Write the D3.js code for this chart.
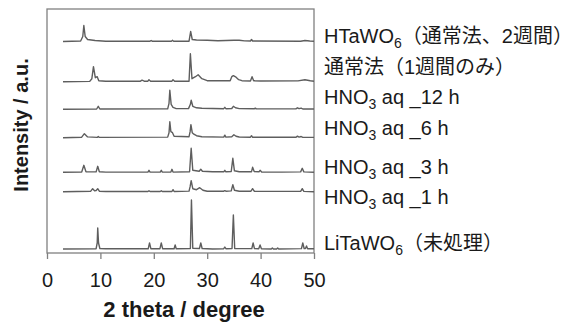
<!DOCTYPE html>
<html>
<head>
<meta charset="utf-8">
<script src="https://cdn.jsdelivr.net/npm/d3@7"></script>
<style>
  body { margin: 0; background: #fff; }
  text { font-family: "Liberation Sans", Arial, "Noto Sans CJK JP", sans-serif; fill: #1a1a1a; }
</style>
</head>
<body>
<div id="chart"></div>
<script>
// XRD patterns, [2theta, intensity above own baseline]
const litawo6 = [[3,0],[9.2,0.3],[9.4,6],[9.5,21],[9.65,6],[9.9,0.5],[11,0.2],[18.95,0.2],[19.2,6],[19.45,0.3],[21.15,0.3],[21.4,6],[21.65,0.3],[23.8,0.2],[24.0,4],[24.2,0.2],[26.85,0.5],[27.05,49],[27.3,0.8],[28.55,0.5],[28.8,6],[29.05,0.5],[31,0],[33.1,0.3],[33.3,2],[33.5,0.3],[34.65,0.5],[34.9,34],[35.15,0.5],[38.35,0.4],[38.6,6],[38.85,0.4],[39.65,0.3],[39.9,4],[40.15,0.3],[42,0],[42.2,1],[42.4,0],[43,0],[43.2,1],[43.4,0],[47.65,0.4],[47.9,6],[48.15,0.5],[48.4,0.5],[48.6,3],[48.8,0.3],[50,0.3]];
const hno3_1h = [[3,0],[8.2,0.5],[8.55,3],[8.9,1],[9.2,1.2],[9.5,3],[9.8,0.5],[11,0.2],[18.9,0.2],[19.1,1],[19.3,0.2],[21.2,0.2],[21.4,1],[21.6,0.2],[23.4,0.2],[23.6,2],[23.8,0.2],[26.6,0.6],[26.8,5],[27.0,11],[27.3,3],[28.0,2],[28.6,4],[29.2,1.5],[30,0.5],[33.1,0.5],[33.3,1],[33.5,0.5],[34.5,0.8],[34.8,7],[35.1,1.5],[36,0.5],[38.2,0.5],[38.5,3],[38.8,0.5],[47.5,0.3],[47.8,3],[48.1,0.3],[50,0]];
const hno3_3h = [[3,0],[6.5,0.3],[6.9,7],[7.3,0.5],[9.2,0.4],[9.5,6],[9.8,0.5],[11,0.2],[18.9,0.2],[19.1,2],[19.3,0.2],[21.2,0.2],[21.4,2],[21.6,0.2],[23.2,0.2],[23.4,3],[23.6,0.2],[26.7,0.5],[27.0,24],[27.3,2],[28.5,1],[28.8,3],[29.1,1],[31,0.5],[33.1,0.5],[33.3,2],[33.5,0.5],[34.5,0.8],[34.8,14],[35.1,1.5],[36,0.5],[38.3,0.6],[38.5,5],[38.8,0.7],[39.7,0.5],[39.9,2],[40.2,0.3],[44,0.2],[47.5,0.4],[47.8,4],[48.1,0.4],[50,0]];
const hno3_6h = [[3,0],[6.5,0.5],[7.0,4],[7.6,0.8],[9.4,0.3],[9.6,1.3],[9.8,0.3],[22.6,0.6],[22.85,5],[23.0,16],[23.2,6],[23.5,5],[23.8,1.5],[26.6,1],[26.8,6],[26.95,13],[27.2,5],[27.5,3.5],[28,2],[29,1],[33.1,0.6],[33.3,2.5],[33.5,0.6],[34.6,1],[35.0,3],[35.4,1.5],[36,0.7],[38.1,0.5],[38.3,2],[38.5,0.4],[46.6,0.4],[46.9,1.5],[47.2,0.6],[47.6,1.2],[47.9,0.3],[50,0.3]];
const hno3_12h = [[3,0],[9.3,0.3],[9.6,3],[9.9,0.3],[22.6,0.5],[22.85,6],[23.0,19],[23.25,5],[23.6,2],[24.2,0.7],[26.5,0.7],[26.85,5],[27.0,9],[27.3,3],[28,1.5],[29,1],[33.1,0.6],[33.3,2],[33.5,0.6],[34.6,0.8],[34.9,3],[35.3,1.5],[36,0.7],[38.8,0.5],[39,1.2],[39.2,0.4],[46.6,0.4],[46.9,1.5],[47.2,0.6],[47.6,1.2],[47.9,0.3],[50,0.3]];
const usual_1w = [[3,0],[8,0.3],[8.4,3],[8.7,15],[9.05,4],[9.4,5],[9.7,1],[11,0.5],[17.5,0.5],[17.8,1.5],[18.2,0.5],[18.9,0.5],[19.1,2],[19.4,0.5],[23.4,0.5],[23.6,2],[23.9,0.5],[26.6,0.5],[26.85,28],[27.15,3],[27.8,5],[28.3,7],[29,3],[30,1],[34.3,1],[34.6,5],[34.9,6],[35.4,4.5],[35.9,2],[36.5,1],[38.1,0.7],[38.4,5],[38.7,1],[40,0.7],[47,0.8],[48.3,2],[49.3,1],[50,0.5]];
const htawo6 = [[3,0],[6.3,0.5],[6.7,5],[6.9,16],[7.15,5],[7.6,2],[9,1],[11,0.3],[19.3,0.3],[19.5,1],[19.7,0.3],[23.3,0.3],[23.5,1.2],[23.7,0.3],[26.6,0.3],[26.9,10],[27.2,2],[28,1.5],[30,1.2],[32,0.8],[35,1.2],[36,1.3],[37,0.6],[38.1,0.5],[38.3,2],[38.5,0.5],[47.5,0.3],[48.3,1],[49.2,0.5],[50,0.3]];

// stacking offsets (a.u.), bottom to top
const offsets = [4, 61.3, 80.7, 115.3, 143.7, 171.3, 211.5];
const patterns = [litawo6, hno3_1h, hno3_3h, hno3_6h, hno3_12h, usual_1w, htawo6];

// labels as [text, subscript?] pieces
const labels = [
  [['LiTaWO', 0], ['6', 1], ['（未処理）', 0]],
  [['HNO', 0], ['3', 1], [' aq _1 h', 0]],
  [['HNO', 0], ['3', 1], [' aq _3 h', 0]],
  [['HNO', 0], ['3', 1], [' aq _6 h', 0]],
  [['HNO', 0], ['3', 1], [' aq _12 h', 0]],
  [['通常法（1週間のみ）', 0]],
  [['HTaWO', 0], ['6', 1], ['（通常法、2週間）', 0]]
];
const xTicks = [0, 10, 20, 30, 40, 50];

const W = 575, H = 327;
const margin = {top: 9, right: 261, bottom: 74, left: 47};
const labelBase = [255, 209, 179, 140, 109, 79, 48];

let svg = d3.select('#chart').append('svg')
    .attr('width', W)
    .attr('height', H);

let xScale = d3.scaleLinear().domain([0, 50]).range([margin.left, W - margin.right]);
let yScale = d3.scaleLinear().domain([0, 244]).range([H - margin.bottom, margin.top]);

// frame
svg.append('rect')
    .attr('x', xScale(0)).attr('y', yScale(244))
    .attr('width', xScale(50) - xScale(0))
    .attr('height', yScale(0) - yScale(244))
    .attr('fill', 'none')
    .attr('stroke', '#808080')
    .attr('stroke-width', 1.3);

let xAxis = svg.append('g')
    .attr('transform', `translate(0,${yScale(0)})`)
    .call(d3.axisBottom(xScale).tickValues(xTicks).tickSize(6).tickSizeOuter(0).tickPadding(14));
xAxis.select('.domain').remove();
xAxis.selectAll('line').attr('stroke', '#808080').attr('stroke-width', 1.3);
xAxis.selectAll('text')
    .style('font-family', '"Liberation Sans", Arial, sans-serif')
    .style('font-size', '20px')
    .attr('fill', '#1a1a1a');

let line = d3.line()
    .x(d => xScale(d[0]));

patterns.forEach((p, i) => {
    svg.append('path')
        .datum(p)
        .attr('d', line.y(d => yScale(d[1] + offsets[i])))
        .attr('fill', 'none')
        .attr('stroke', '#5e5e5e')
        .attr('stroke-width', 1.4)
        .attr('stroke-linejoin', 'round');
});

labels.forEach((parts, i) => {
    let t = svg.append('text')
        .attr('x', 324)
        .attr('y', labelBase[i])
        .style('font-size', '20px');
    parts.forEach(([s, sub]) => {
        t.append('tspan')
            .attr('dy', sub ? 5 : (t.selectAll('tspan').size() > 0 ? -5 : 0))
            .style('font-size', sub ? '14px' : null)
            .text(s);
    });
});

svg.append('text')
    .attr('transform', 'translate(28,125) rotate(-90)')
    .attr('text-anchor', 'middle')
    .style('font-size', '20px')
    .style('font-weight', 'bold')
    .text('Intensity / a.u.');

svg.append('text')
    .attr('x', 184)
    .attr('y', 317)
    .attr('text-anchor', 'middle')
    .style('font-size', '22px')
    .style('font-weight', 'bold')
    .text('2 theta / degree');
</script>
</body>
</html>
